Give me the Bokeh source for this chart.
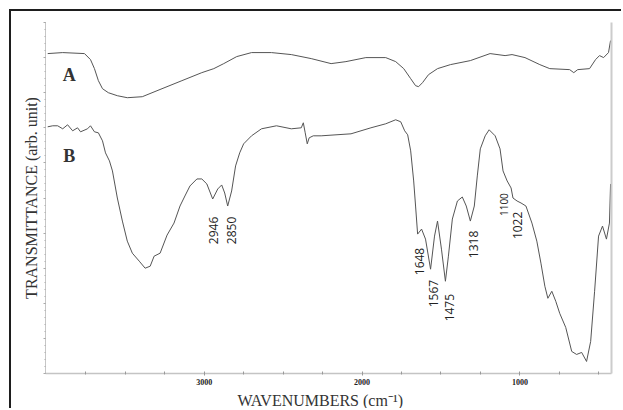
import numpy as np
from bokeh.plotting import figure
from bokeh.models import Range1d, LinearAxis, FixedTicker, CustomJSTickFormatter, Label, ColumnDataSource, Title
from bokeh.core.properties import value
from bokeh.embed import file_html
from bokeh.resources import INLINE

# Spectrum A (upper trace): wavenumber (cm-1), transmittance (arb.)
wn_a = [3991, 3896, 3758, 3720, 3695, 3670, 3644, 3607, 3550, 3487, 3392, 3267, 3141, 3015,
        2939, 2876, 2794, 2700, 2574, 2448, 2322, 2196, 2102, 1976, 1850, 1787, 1736, 1692,
        1661, 1642, 1617, 1579, 1522, 1440, 1314, 1189, 1094, 1050, 968, 874, 811, 685, 659,
        634, 559, 521, 496, 470, 439, 426]
t_a = [319, 320, 319, 313, 304, 292, 284, 280, 277, 275, 276, 284, 292, 300,
       304, 309, 316, 320, 320, 318, 314, 309, 311, 315, 315, 311, 304, 294,
       287, 286, 290, 298, 304, 308, 312, 319, 317, 318, 315, 308, 304, 303, 300,
       303, 304, 313, 317, 315, 320, 332]

# Spectrum B (lower trace)
wn_b = [3991, 3959, 3928, 3896, 3865, 3833, 3802, 3783, 3739, 3720, 3695, 3670, 3644, 3625,
        3600, 3581, 3550, 3518, 3487, 3455, 3411, 3374, 3342, 3317, 3279, 3235, 3191, 3153,
        3122, 3090, 3046, 3015, 2983, 2946, 2914, 2889, 2870, 2851, 2826, 2801, 2775, 2750,
        2700, 2637, 2542, 2448, 2385, 2372, 2360, 2347, 2335, 2309, 2259, 2165, 2070, 1944,
        1850, 1787, 1755, 1730, 1711, 1692, 1673, 1661, 1648, 1623, 1598, 1566, 1541, 1522,
        1497, 1472, 1453, 1428, 1396, 1365, 1340, 1314, 1289, 1270, 1251, 1220, 1195, 1157,
        1126, 1107, 1081, 1056, 1044, 1018, 993, 962, 924, 893, 867, 842, 823, 798, 773, 748,
        710, 672, 641, 609, 578, 552, 527, 502, 477, 452, 433, 426]
t_b = [246, 247, 247, 244, 248, 242, 245, 241, 244, 247, 241, 240, 232, 220,
       212, 202, 175, 152, 132, 120, 112, 105, 107, 117, 120, 138, 150, 167,
       177, 187, 194, 194, 189, 174, 184, 188, 180, 167, 182, 207, 220, 229,
       237, 244, 247, 244, 245, 250, 240, 229, 235, 237, 237, 238, 239, 245,
       249, 253, 251, 242, 238, 222, 192, 167, 139, 144, 134, 104, 137, 152,
       124, 92, 117, 154, 172, 176, 167, 152, 167, 197, 224, 237, 243, 237,
       224, 202, 192, 185, 175, 172, 170, 167, 150, 132, 110, 87, 75, 82, 72, 60,
       46, 22, 19, 21, 12, 32, 82, 137, 147, 134, 150, 189]

# Peak annotations
peak_text = ["2946", "2850", "1648", "1567", "1475", "1318", "1022"]
peak_x = [2939, 2829, 1636, 1547, 1447, 1296, 1018]
peak_y = [129, 129, 98, 66, 52, 115, 134]
small_text = ["1100"]
small_x = [1100]
small_y = [157]

x_ticks = [1000, 2000, 3000]
x_minor = [500, 750, 1250, 1500, 1750, 2250, 2500, 2750, 3250, 3500, 3750]

p = figure(width=612, height=399, output_backend="svg", toolbar_location=None,
           x_range=Range1d(4005, 420), y_range=Range1d(0, 350),
           min_border_left=34, min_border_top=11, min_border_right=12, min_border_bottom=0,
           margin=(9, 0, 0, 9))
p.styles = {"border-left": "2px solid #1e1e1e", "border-top": "2px solid #1e1e1e"}
p.background_fill_color = "white"
p.border_fill_color = "white"
p.outline_line_color = None
p.grid.visible = False

src_a = ColumnDataSource(dict(x=wn_a, y=t_a))
src_b = ColumnDataSource(dict(x=wn_b, y=t_b))
p.line("x", "y", source=src_a, line_color="#555555", line_width=1)
p.line("x", "y", source=src_b, line_color="#555555", line_width=1)

p.text(x=peak_x, y=peak_y, text=peak_text, angle=np.pi / 2,
       text_font=value("Open Sans"), text_font_size="12px", text_color="#222222",
       text_align="left", text_baseline="middle")
p.text(x=small_x, y=small_y, text=small_text, angle=np.pi / 2,
       text_font=value("Open Sans"), text_font_size="10px", text_color="#222222",
       text_align="left", text_baseline="middle")

p.add_layout(Label(x=3855, y=298, text="A", text_font="Liberation Serif", text_font_style="bold",
                   text_font_size="18px", text_color="#333333", text_align="center",
                   text_baseline="middle"))
p.add_layout(Label(x=3855, y=217, text="B", text_font="Liberation Serif", text_font_style="bold",
                   text_font_size="18px", text_color="#333333", text_align="center",
                   text_baseline="middle"))

xa = p.xaxis[0]
xa.ticker = FixedTicker(ticks=x_ticks, minor_ticks=x_minor)
xa.axis_line_color = "#c4c4c4"
xa.axis_line_width = 1.5
xa.major_tick_line_color = "#999999"
xa.minor_tick_line_color = "#999999"
xa.major_tick_in = 2
xa.major_tick_out = 2
xa.minor_tick_in = 2
xa.minor_tick_out = 1
xa.major_label_text_font = "Liberation Serif"
xa.major_label_text_font_style = "bold"
xa.major_label_text_font_size = "8px"
xa.major_label_text_color = "#222222"
xa.major_label_standoff = 3

p.add_layout(Title(text="WAVENUMBERS (cm⁻¹)", align="left", offset=192,
                   text_font="Liberation Serif", text_font_style="normal",
                   text_font_size="16px", text_color="#333333", standoff=4), "below")

ya = p.yaxis[0]
ya.ticker = FixedTicker(ticks=list(range(0, 351, 35)), minor_ticks=list(range(0, 351, 7)))
ya.formatter = CustomJSTickFormatter(code="return ''")
ya.axis_line_color = "#8c8c8c"
ya.axis_line_dash = "1 1"
ya.axis_line_width = 1
ya.major_tick_line_color = "#aaaaaa"
ya.minor_tick_line_color = "#aaaaaa"
ya.major_tick_in = 0
ya.major_tick_out = 2
ya.minor_tick_in = 0
ya.minor_tick_out = 1
ya.major_label_standoff = 0
ya.axis_label = "TRANSMITTANCE (arb. unit)"
ya.axis_label_text_font = "Liberation Serif"
ya.axis_label_text_font_style = "normal"
ya.axis_label_text_font_size = "16px"
ya.axis_label_text_color = "#333333"
ya.axis_label_standoff = 4

ra = LinearAxis(axis_line_color="#cccccc", axis_line_width=2,
                major_tick_line_color=None, minor_tick_line_color=None,
                major_label_text_font_size="0px")
ra.formatter = CustomJSTickFormatter(code="return ''")
p.add_layout(ra, "right")

open("out.html", "w").write(file_html(p, INLINE))
